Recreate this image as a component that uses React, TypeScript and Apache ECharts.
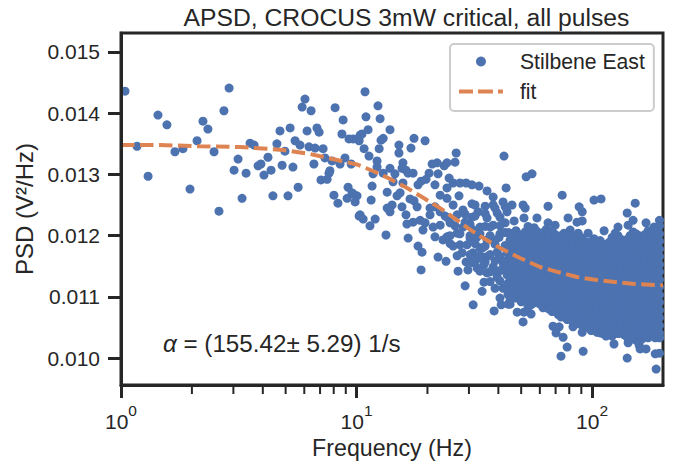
import React, { useEffect, useRef } from "react";
import * as echarts from "echarts";

const TITLE = "APSD, CROCUS 3mW critical, all pulses";
const INK = "#262626";
const BLUE = "#4C72B0";
const ORANGE = "#DD8452";
const FONT = "'Liberation Sans', Arial, sans-serif";
const yMin = 0.00956;
const yMax = 0.01531;
const yTicks = [0.01, 0.011, 0.012, 0.013, 0.014, 0.015];
const xMajor = [1, 10, 100];
const minorFreqs = [2, 3, 4, 5, 6, 7, 8, 9, 20, 30, 40, 50, 60, 70, 80, 90];
const FIT_ICON = "path://M0 0h.01v.01h-.01zM0 10h.01v.01h-.01zM0 3.1H14V6.9H0zM19 3.1H34V6.9H19zM39 3.1H44V6.9H39z";

// [log10(frequency / Hz), PSD]
const lowBand: number[][] = [
  [.017,.01436],[.068,.01346],[.115,.01297],[.157,.01397],[.195,.01381],[.229,.01337],[.263,.01342],[.293,.01276],[.323,.01355],[.348,.01387],
  [.369,.01374],[.395,.01337],[.416,.0124],[.437,.01404],[.459,.01441],[.48,.01307],[.497,.01325],[.514,.01261],[.531,.01302],[.548,.01351],
  [.565,.01348],[.582,.01314],[.594,.01317],[.607,.01299],[.624,.01328],[.637,.01307],[.645,.01265],[.662,.0135],[.675,.01371],[.684,.01315],
  [.696,.01338],[.709,.01265],[.718,.01376],[.73,.01312],[.739,.01355],[.752,.01279],[.76,.01348],[.769,.0141],[.781,.01423],[.79,.01371],
  [.798,.01345],[.807,.01404],[.819,.01317],[.824,.01343],[.832,.01376],[.841,.01369],[.849,.01291],[.858,.01342],[.866,.01327],[.875,.01292],
  [.883,.01302],[.887,.01306],[.896,.01322],[.904,.01266],[.909,.01409],[.921,.01253],[.93,.01317],[.938,.01366],[.943,.01389],[.951,.01327],
  [.96,.01261],[.964,.01279],[.968,.01358],[.977,.01317],[.981,.0127],[.985,.01358],[.994,.01255],[1.002,.01358],[1.002,.01265],[1.011,.01232],[1.015,.01364],
];

const midBand: number[][] = [
  [1.036,.01435],[1.091,.01412],[1.04,.01394],[1.1,.01391],[1.142,.01373],[1.049,.01373],[1.023,.01366],[1.011,.01355],[1.113,.01359],[1.104,.01356],
  [1.244,.01359],[1.291,.01355],[1.18,.01348],[1.231,.01343],[1.096,.01342],[1.18,.01335],[1.032,.01342],[1.053,.0133],[1.423,.01335],[1.626,.0133],
  [1.418,.0132],[1.384,.01319],[1.372,.01314],[1.342,.01319],[1.321,.01317],[1.087,.01322],[1.197,.01319],[1.142,.0131],[1.087,.01312],[1.07,.01301],
  [1.113,.01302],[1.193,.0131],[1.21,.01307],[1.219,.01302],[1.24,.01302],[1.163,.01301],[1.308,.01302],[1.346,.01301],[1.295,.01292],[1.274,.01289],
  [1.261,.01283],[1.333,.01283],[1.393,.01294],[1.41,.01286],[1.439,.01286],[1.465,.01286],[1.49,.01283],[1.52,.01281],[1.384,.01278],[1.554,.01273],
  [1.635,.01278],[1.155,.01288],[1.197,.01286],[1.066,.01281],[1.13,.01271],[1.185,.0127],[1.172,.01265],[.985,.01268],[1.062,.01258],[1.227,.0126],
  [1.244,.01257],[1.257,.01247],[1.151,.0125],[1.193,.01247],[1.13,.01245],[1.142,.01239],[1.21,.01234],[1.015,.01234],[1.028,.01227],[1.079,.01227],
  [1.057,.01216],[1.355,.01266],[1.435,.01265],[1.384,.01261],[1.41,.0125],[1.312,.01245],[1.49,.01252],[1.452,.01242],[1.516,.01239],[1.58,.01263],
  [1.622,.01255],[1.58,.0125],[1.355,.01239],[1.312,.01234],[1.333,.01247],[1.388,.01229],[1.427,.01234],[1.49,.0123],[1.554,.01229],[1.597,.01237],
  [1.639,.01239],[1.27,.01225],[1.24,.01222],[1.214,.01219],[1.291,.01221],[1.355,.01217],[1.397,.01221],[1.461,.01222],[1.524,.01214],[1.58,.01217],
  [1.631,.01221],[1.125,.01201],[1.219,.01196],[1.261,.01183],[1.278,.01173],[1.274,.01144],[1.346,.01165],[1.38,.01158],[1.427,.01167],[1.431,.01142],
  [1.473,.01144],[1.461,.01118],[1.533,.01109],[1.541,.01124],[1.495,.01087],[1.584,.01077],[1.614,.01087],[1.609,.01098],[1.643,.01088],[1.622,.01114],
  [1.282,.01209],[1.333,.01198],[1.367,.01193],[1.41,.01183],[1.384,.01198],[1.427,.01204],[1.469,.01185],[1.448,.01172],[1.465,.01157],[1.512,.01147],
  [1.554,.01139],[1.597,.01132],[1.639,.01136],[1.495,.01172],[1.537,.01165],[1.58,.01149],[1.622,.01155],[1.554,.01193],[1.524,.0118],[1.597,.01173],
  [1.495,.01209],[1.452,.01214],[1.325,.01214],[1.567,.01214],[1.639,.01172],[1.652,.01193],[1.482,.01196],[1.51,.01197],[1.575,.01194],[1.605,.01197],
  [1.63,.01205],[1.535,.0118],[1.56,.01167],[1.605,.01163],[1.515,.01163],[1.49,.01156],[1.54,.01152],[1.585,.01142],[1.628,.01146],
  [1.503,.0125],[1.546,.01248],[1.588,.01245],[1.631,.01247],[1.376,.01232],[1.461,.01235],[1.503,.01232],[1.546,.01236],[1.609,.0123],
  [1.418,.01216],[1.482,.01218],[1.546,.01215],[1.609,.01216],[1.397,.012],[1.439,.01203],[1.482,.012],[1.524,.01203],[1.567,.012],[1.609,.01203],[1.645,.01205],
  [1.397,.01187],[1.439,.01185],[1.503,.01187],[1.546,.01183],[1.588,.01186],[1.631,.01184],[1.482,.01169],[1.524,.01167],[1.567,.01169],[1.609,.01166],[1.652,.01168],
  [1.503,.01158],[1.546,.01157],[1.588,.01159],[1.631,.01158],[1.665,.01156],[1.524,.01142],[1.567,.01141],[1.609,.01143],[1.652,.01142],
  [1.567,.01125],[1.609,.01126],[1.643,.01122],[1.588,.01114],[1.643,.01104],
];

const outliers: number[][] = [
  [1.72,.01296],[1.745,.01301],[1.873,.01266],[2.008,.01258],[2.038,.0126],[2.183,.01253],[1.813,.01248],[1.945,.01247],[1.958,.01239],[2.149,.01237],
  [2.174,.01225],[1.66,.0125],[1.707,.0125],[1.716,.01245],[1.711,.01229],[1.669,.01224],[1.766,.01229],[1.813,.01221],[1.843,.01217],[1.898,.01229],
  [1.958,.01224],[1.936,.01222],[1.907,.01209],[1.941,.01204],[1.983,.01204],[2.051,.01208],[2.11,.01214],[2.229,.01221],[2.153,.01217],[2.174,.01206],
  [2.098,.01204],[2.286,.01225],[2.263,.01214],[2.217,.01198],[1.707,.01059],[1.682,.01075],[1.741,.01072],[1.711,.01075],[1.652,.01088],[1.699,.01092],
  [1.834,.01052],[1.86,.01051],[1.847,.01041],[1.877,.01034],[1.894,.01018],[1.868,.01003],[1.962,.01011],[1.919,.01051],[1.958,.01042],[2.093,.01023],
  [2.149,.01],[2.153,.01025],[2.2,.01021],[2.204,.01015],[2.229,.01015],[2.268,.01007],[2.286,.01008],[2.272,.00982],[2.268,.01033],[2.064,.01038],
  [2.034,.01041],[2.119,.01041],[2.174,.01038],[2.286,.01034],[1.792,.01082],[1.856,.01075],[1.898,.01074],[1.979,.01051],[1.766,.01095],
];

const denseLogFreqs = [1.652,1.677,1.703,1.728,1.754,1.779,1.805,1.83,1.856,1.881,1.907,1.932,1.958,1.983,2.008,2.034,2.059,2.085,2.11,2.136,2.161,2.187,2.212,2.238,2.263,2.286];
const denseColumns: number[][] = [
  [.01204,.01191,.01179,.01168,.01155,.01143,.0113,.01118,.01107,.01097],
  [.01208,.01196,.01183,.0117,.01158,.01146,.01133,.01121,.01109,.01098],
  [.012,.01187,.01175,.01162,.0115,.01137,.01125,.01113,.011,.01093],
  [.01215,.01203,.0119,.01178,.01165,.01152,.0114,.01128,.01115,.01103,.01091,.01083],
  [.01213,.01201,.01188,.01176,.01163,.01151,.01138,.01126,.01114,.01101,.0109],
  [.01199,.01186,.01174,.01161,.01148,.01136,.01123,.01111,.01099,.01088],
  [.0121,.01197,.01185,.01172,.0116,.01147,.01135,.01122,.0111,.01098,.01086],
  [.01208,.01195,.01183,.0117,.01158,.01145,.01133,.0112,.01108,.01095,.01083,.01076],
  [.01193,.01181,.01168,.01156,.01143,.01131,.01118,.01106,.01093,.01081,.01071],
  [.01204,.01191,.01179,.01166,.01154,.01141,.01129,.01116,.01104,.01092,.01079,.01069],
  [.012,.01188,.01175,.01163,.0115,.01138,.01125,.01113,.011,.01088,.01076,.01065],
  [.01186,.01173,.01161,.01148,.01136,.01123,.01111,.01098,.01086,.01073,.01062],
  [.01196,.01184,.01171,.01159,.01146,.01134,.01121,.01109,.01096,.01084,.01071,.0106,.01053],
  [.01185,.01172,.0116,.01147,.01135,.01122,.0111,.01097,.01085,.01072,.0106,.0105],
  [.01195,.01183,.0117,.01158,.01145,.01133,.0112,.01108,.01095,.01083,.0107,.01058,.01048],
  [.01192,.0118,.01167,.01155,.01142,.0113,.01117,.01105,.01092,.0108,.01067,.01055,.01045],
  [.01182,.0117,.01157,.01145,.01132,.0112,.01107,.01095,.01082,.0107,.01057,.01046,.01036],
  [.01197,.01184,.01172,.01159,.01147,.01134,.01122,.01109,.01097,.01084,.01072,.01059,.01047,.01036],
  [.012,.01187,.01175,.01162,.0115,.01137,.01125,.01112,.011,.01087,.01075,.01062,.0105,.0104],
  [.01188,.01175,.01163,.0115,.01138,.01125,.01113,.011,.01088,.01075,.01063,.0105,.01038],
  [.012,.01187,.01175,.01162,.0115,.01137,.01125,.01112,.011,.01087,.01075,.01062,.0105,.01037,.0103],
  [.01203,.0119,.01178,.01165,.01153,.0114,.01128,.01115,.01103,.0109,.01078,.01065,.01053,.0104,.01029],
  [.01193,.01181,.01168,.01156,.01143,.01131,.01118,.01106,.01093,.01081,.01068,.01056,.01043,.01031],
  [.01208,.01195,.01183,.0117,.01158,.01145,.01133,.0112,.01108,.01095,.01083,.0107,.01058,.01045,.01033],
  [.01209,.01197,.01184,.01172,.01159,.01147,.01134,.01122,.01109,.01097,.01084,.01072,.01059,.01047,.01035],
  [.01216,.01203,.01191,.01178,.01166,.01153,.01141,.01128,.01116,.01103,.01091,.01078,.01066,.01053,.01041,.01033],
];

const fillLogFreqs = [1.664,1.69,1.716,1.741,1.766,1.792,1.817,1.843,1.868,1.894,1.919,1.945,1.971,1.996,2.021,2.046,2.072,2.098,2.123,2.149,2.174,2.2,2.225,2.25,2.275];
const fillColumns: number[][] = [
  [.01198,.01185,.01173,.01161,.01149,.01137,.01124,.01112,.01102],
  [.01202,.0119,.01177,.01164,.01152,.0114,.01127,.01115,.01103],
  [.01206,.01193,.01181,.01168,.01156,.01143,.01131,.01119,.01106,.01096],
  [.01209,.01197,.01184,.01172,.01159,.01146,.01134,.01122,.01109,.01097,.01087],
  [.01207,.01195,.01182,.0117,.01157,.01145,.01132,.0112,.01108,.01095],
  [.01205,.01192,.0118,.01167,.01155,.01142,.0113,.01117,.01105,.01093,.01084],
  [.01204,.01191,.01179,.01166,.01154,.01141,.01129,.01116,.01104,.01092,.0108],
  [.01202,.01189,.01177,.01164,.01152,.01139,.01127,.01114,.01102,.01089,.01079],
  [.012,.01187,.01175,.01162,.0115,.01137,.01125,.01112,.011,.01087,.01075,.01067],
  [.01197,.01185,.01172,.0116,.01148,.01135,.01123,.0111,.01098,.01086,.01073,.01063],
  [.01194,.01182,.01169,.01157,.01144,.01132,.01119,.01107,.01094,.01082,.0107,.01059],
  [.01192,.0118,.01167,.01155,.01142,.0113,.01117,.01105,.01092,.0108,.01067,.01056],
  [.0119,.01178,.01165,.01153,.0114,.01128,.01115,.01103,.0109,.01078,.01065,.01055],
  [.0119,.01178,.01166,.01153,.01141,.01128,.01116,.01103,.01091,.01078,.01066,.01054,.01045],
  [.01189,.01176,.01164,.01151,.01139,.01126,.01114,.01101,.01089,.01076,.01064,.01051,.01042],
  [.01186,.01174,.01161,.01149,.01136,.01124,.01111,.01099,.01086,.01074,.01061,.01049,.0104],
  [.01189,.01176,.01164,.01151,.01139,.01126,.01114,.01101,.01089,.01076,.01064,.01052,.01041],
  [.01191,.01178,.01166,.01153,.01141,.01128,.01116,.01103,.01091,.01078,.01066,.01053,.01043],
  [.01194,.01181,.01169,.01156,.01144,.01131,.01119,.01106,.01094,.01081,.01069,.01056,.01044],
  [.01194,.01181,.01169,.01156,.01144,.01131,.01119,.01106,.01094,.01081,.01069,.01056,.01044,.01034],
  [.01197,.01184,.01172,.01159,.01147,.01134,.01122,.01109,.01097,.01084,.01072,.01059,.01047,.01034],
  [.012,.01187,.01175,.01162,.0115,.01137,.01125,.01112,.011,.01087,.01075,.01062,.0105,.01037],
  [.01202,.01189,.01177,.01164,.01152,.01139,.01127,.01114,.01102,.01089,.01077,.01064,.01052,.01039],
  [.01203,.01191,.01178,.01166,.01153,.01141,.01128,.01116,.01103,.01091,.01078,.01066,.01053,.01041],
  [.01206,.01194,.01181,.01169,.01156,.01144,.01131,.01119,.01106,.01094,.01081,.01069,.01056,.01044],
];

const fitFreqs = [1,1.46,2.17,3.2,4.87,6.35,8.26,10.05,11.75,13.9,16.4,19.2,22.6,26.7,29.7,33.4,40.7,49.4,60.1,71.7,86.3,105,125,152,189,200];
const fitPsd = [.01348,.01348,.01346,.013448,.0134,.013333,.013235,.013162,.013056,.012925,.012777,.012619,.012451,.012255,.012124,.011993,.011797,.011634,.011487,.011405,.011324,.011275,.011242,.011209,.011193,.01119];

const scatterData = [
  ...lowBand,
  ...midBand,
  ...outliers,
  ...denseLogFreqs.flatMap((lf, i) => denseColumns[i].map((p) => [lf, p])),
  ...fillLogFreqs.flatMap((lf, i) => fillColumns[i].map((p) => [lf, p])),
].map(([lf, p]) => [Math.pow(10, lf), p]);

export default function App() {
  const ref = useRef<HTMLDivElement>(null);
  useEffect(() => {
    const chart = echarts.init(ref.current!, undefined, { renderer: "svg" });
    const textBase = { fontFamily: FONT, color: INK };
    chart.setOption({
      animation: false,
      backgroundColor: "#ffffff",
      textStyle: { fontFamily: FONT },
      title: {
        text: TITLE,
        left: 401.5,
        top: 0,
        textAlign: "center",
        textStyle: { ...textBase, fontSize: 24.7, fontWeight: "normal" },
      },
      grid: { left: 121, top: 33, width: 542, height: 352, show: true, borderColor: INK, borderWidth: 3, containLabel: false, outerBoundsMode: "none" },
      legend: {
        left: 450,
        top: 44,
        orient: "vertical",
        padding: [7, 9, 9, 9],
        itemWidth: 44,
        itemHeight: 10,
        itemGap: 9,
        borderColor: "#cccccc",
        borderWidth: 2,
        borderRadius: 4,
        backgroundColor: "#ffffff",
        data: [
          { name: "Stilbene East", icon: "circle" },
          { name: "fit", icon: FIT_ICON },
        ],
        textStyle: { ...textBase, fontSize: 21.2, padding: [0, 0, 0, 12] },
      },
      xAxis: {
        type: "log",
        logBase: 10,
        min: 1,
        max: 200,
        name: "Frequency (Hz)",
        nameLocation: "middle",
        nameGap: 51,
        nameTextStyle: { ...textBase, fontSize: 23.2 },
        z: 5,
        axisLine: { show: true, onZero: false, lineStyle: { color: INK, width: 3 } },
        axisTick: { show: true, length: 13, lineStyle: { color: INK, width: 3 }, customValues: xMajor },
        minorTick: { show: false },
        splitLine: { show: false },
        minorSplitLine: { show: false },
        axisLabel: {
          margin: 17,
          customValues: xMajor,
          formatter: (v: number) => `{b|10}{s|${Math.round(Math.log10(v))}}`,
          rich: {
            b: { ...textBase, fontSize: 21, lineHeight: 30, verticalAlign: "bottom" },
            s: { ...textBase, fontSize: 15.5, lineHeight: 16, verticalAlign: "top" },
          },
        },
      },
      yAxis: {
        type: "value",
        min: yMin,
        max: yMax,
        name: "PSD (V²/Hz)",
        nameLocation: "middle",
        nameGap: 83,
        nameTextStyle: { ...textBase, fontSize: 24 },
        z: 5,
        axisLine: { show: true, onZero: false, lineStyle: { color: INK, width: 3 } },
        axisTick: { show: true, length: 13, lineStyle: { color: INK, width: 3 }, customValues: yTicks },
        splitLine: { show: false },
        axisLabel: {
          ...textBase,
          fontSize: 21,
          margin: 21,
          customValues: yTicks,
          formatter: (v: number) => v.toFixed(3),
        },
      },
      series: [
        {
          name: "Stilbene East",
          type: "scatter",
          data: scatterData,
          symbol: "circle",
          symbolSize: 9,
          itemStyle: { color: BLUE, opacity: 1 },
          z: 2,
        },
        {
          name: "fit",
          type: "line",
          data: fitFreqs.map((f, i) => [f, fitPsd[i]]),
          showSymbol: false,
          symbol: "none",
          smooth: false,
          lineStyle: { color: ORANGE, width: 4, type: [13.5, 5.5] },
          itemStyle: { color: ORANGE },
          z: 3,
        },
        {
          type: "custom",
          silent: true,
          clip: false,
          data: minorFreqs.map((f) => [f, yMin]),
          encode: { x: 0, y: 1 },
          renderItem: (_p: any, api: any) => {
            const c = api.coord([api.value(0), api.value(1)]);
            return {
              type: "line",
              shape: { x1: c[0], y1: c[1], x2: c[0], y2: c[1] + 9 },
              style: { stroke: INK, lineWidth: 2 },
            };
          },
          z: 4,
        },
      ],
      graphic: [
        {
          type: "text",
          left: 163,
          top: 331,
          style: {
            text: "{i|α} = (155.42± 5.29) 1/s",
            font: `24.2px ${FONT}`,
            fill: INK,
            rich: {
              i: { fontStyle: "italic", fontSize: 24.2, fontFamily: FONT, fill: INK },
            },
          },
        },
      ],
    });
    return () => chart.dispose();
  }, []);
  return <div ref={ref} style={{ position: "fixed", left: 0, top: 0, width: 673, height: 466 }} />;
}
